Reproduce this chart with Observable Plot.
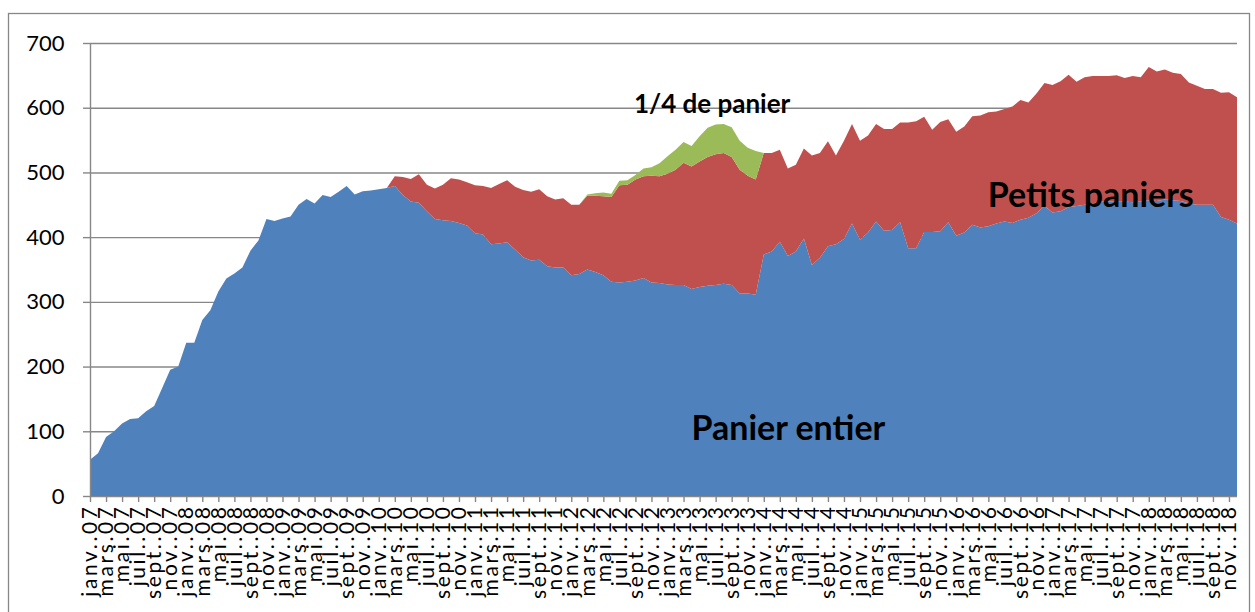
<!DOCTYPE html>
<html><head><meta charset="utf-8">
<script src="https://cdn.jsdelivr.net/npm/d3@7"></script>
<script src="https://cdn.jsdelivr.net/npm/@observablehq/plot@0.6"></script>
<style>
body{margin:0;background:#fff;}
#chart svg{display:block;}
g[aria-label="x-axis tick label"] text{letter-spacing:2.6px;}
</style>
</head><body><div id="chart"></div>
<script>
// Categories: monthly, janv. 2007 -> déc. 2018
const monthNames = ["janv.","févr.","mars","avr.","mai","juin","juil.","août","sept.","oct.","nov.","déc."];
const years = ["07","08","09","10","11","12","13","14","15","16","17","18"];
const months = years.flatMap(y => monthNames.map(m => m + "." + y));
// Tick labels: every other month
const tickLabels = months.filter((d, i) => i % 2 === 0);

const seriesNames = ["Panier entier", "Petits paniers", "1/4 de panier"];

const panierEntier = [
  56,66,91,100,112,119,120,131,139,167,195,200,
  237,237,272,287,316,336,344,353,379,395,428,425,
  429,432,450,459,452,465,462,470,479,466,471,472,
  474,476,479,465,455,453,440,428,426,425,422,418,
  406,404,389,390,392,381,369,364,365,355,353,353,
  341,343,350,346,341,331,330,331,333,337,330,329,
  327,326,326,320,323,325,326,328,326,313,313,311,
  373,378,393,371,378,398,357,368,386,389,397,421,
  396,407,424,410,411,423,383,383,408,408,409,423,
  402,407,419,415,417,421,424,422,427,430,437,448,
  438,440,446,448,450,452,455,455,456,455,454,455,
  457,456,458,457,456,452,450,450,450,431,427,421
];
const petitsPaniers = [
  0,0,0,0,0,0,0,0,0,0,0,0,
  0,0,0,0,0,0,0,0,0,0,0,0,
  0,0,0,0,0,0,0,0,0,0,0,0,
  0,0,15,28,35,44,41,47,55,66,67,67,
  74,75,87,92,96,97,104,106,109,108,105,107,
  109,107,114,118,122,131,150,150,156,157,165,165,
  171,178,189,189,194,199,202,202,198,191,182,178,
  157,152,142,135,134,139,169,162,162,137,152,154,
  153,150,151,157,156,154,194,196,178,158,169,159,
  161,164,168,173,176,173,174,180,185,178,185,190,
  197,201,205,192,197,197,194,194,194,191,195,192,
  206,200,201,197,196,187,184,179,179,192,197,195
];
const quartPanier = [
  0,0,0,0,0,0,0,0,0,0,0,0,
  0,0,0,0,0,0,0,0,0,0,0,0,
  0,0,0,0,0,0,0,0,0,0,0,0,
  0,0,0,0,0,0,0,0,0,0,0,0,
  0,0,0,0,0,0,0,0,0,0,0,0,
  0,0,2,4,6,5,7,7,7,12,13,20,
  27,31,32,32,39,45,46,45,46,45,43,44,
  0,0,0,0,0,0,0,0,0,0,0,0,
  0,0,0,0,0,0,0,0,0,0,0,0,
  0,0,0,0,0,0,0,0,0,0,0,0,
  0,0,0,0,0,0,0,0,0,0,0,0,
  0,0,0,0,0,0,0,0,0,0,0,0
];
const yTicks = [0,100,200,300,400,500,600,700];

const seriesValues = [panierEntier, petitsPaniers, quartPanier];
const data = months.flatMap((m, i) => seriesNames.map((s, k) => ({i, month: m, series: s, value: seriesValues[k][i]})));
const tickIdx = months.map((d, i) => i).filter(i => i % 2 === 0);

const gray = "#878787";
const chart = Plot.plot({
  width: 1255,
  height: 612,
  marginLeft: 90,
  marginRight: 18,
  marginTop: 43,
  marginBottom: 116,
  x: {domain: [0, months.length - 1], axis: null},
  y: {domain: [0, 700], axis: null},
  color: {domain: seriesNames, range: ["#4F81BD", "#C0504D", "#9BBB59"]},
  style: {fontFamily: "Lato, 'Open Sans', sans-serif", background: "white", color: "black"},
  marks: [
    Plot.ruleY(yTicks, {stroke: gray, strokeWidth: 1.4}),
    Plot.areaY(data, {x: "i", y: "value", fill: "series", order: seriesNames, curve: "linear"}),
    Plot.ruleX([0], {stroke: gray, strokeWidth: 1.4}),
    Plot.axisY({ticks: yTicks, tickSize: 7, tickPadding: 19, fontSize: 22, stroke: gray, fill: "black", strokeWidth: 1.4, label: null}),
    Plot.axisX({ticks: tickIdx, tickFormat: i => tickLabels[i / 2], tickRotate: -90, tickSize: 6, tickPadding: 2, fontSize: 21, stroke: gray, fill: "black", strokeWidth: 1.4, label: null}),
    Plot.text(["Panier entier"], {x: 87, y: 104, text: d => d, fontSize: 34, fontWeight: "bold", fill: "black"}),
    Plot.text(["Petits paniers"], {x: 124.7, y: 464, text: d => d, fontSize: 34, fontWeight: "bold", fill: "black"}),
    Plot.text(["1/4 de panier"], {x: 77.5, y: 605, text: d => d, fontSize: 26, fontWeight: "bold", fill: "black"})
  ]
});
d3.select(chart).append("rect")
  .attr("x", 8.5).attr("y", 13.5).attr("width", 1241).attr("height", 640)
  .attr("fill", "none").attr("stroke", gray).attr("stroke-width", 1.3);
document.getElementById("chart").appendChild(chart);
</script>
</body></html>
